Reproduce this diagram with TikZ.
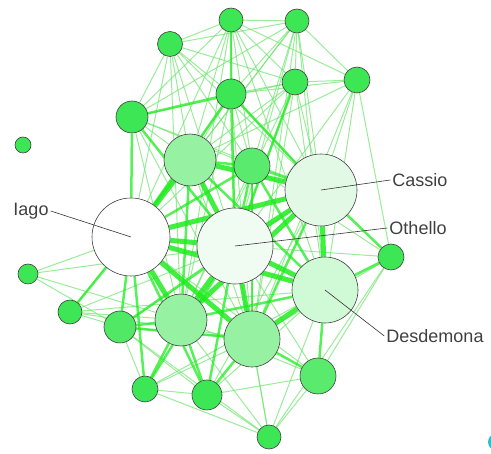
\documentclass[tikz,border=0pt]{standalone}
\usepackage{fontspec}
\setmainfont{Liberation Sans}
\usetikzlibrary{backgrounds}
\definecolor{nodegreen}{RGB}{60,230,84}
\definecolor{midgreen}{RGB}{150,242,162}
\definecolor{palegreen}{RGB}{226,250,229}
\definecolor{edgethin}{RGB}{110,228,110}
\definecolor{edgethick}{RGB}{30,236,30}
\tikzset{
  actor/.style={circle, draw=black!75, line width=0.6pt, inner sep=0pt},
  tie/.style={edgethin, line width=1pt, opacity=0.7},
  strongtie/.style={edgethick, line width=2.5pt, opacity=0.75},
  heavytie/.style={edgethick, line width=5pt, opacity=0.85},
  charlabel/.style={font=\fontsize{18}{20}\selectfont, text=black!75, inner sep=2pt},
  leader/.style={black!80, line width=0.6pt}
}

\begin{document}
\begin{tikzpicture}[x=1pt, y=-1pt]
    \useasboundingbox (0,0) rectangle (491,454);
    % small characters
    \node[actor, fill=nodegreen, minimum size=24pt] (t1) at (231,20) {};
    \node[actor, fill=nodegreen, minimum size=24pt] (t2) at (297,21) {};
    \node[actor, fill=nodegreen, minimum size=25pt] (t3) at (170,44) {};
    \node[actor, fill=nodegreen, minimum size=26pt] (u1) at (295,82) {};
    \node[actor, fill=nodegreen, minimum size=26pt] (u2) at (357,80) {};
    \node[actor, fill=nodegreen, minimum size=30pt] (u3) at (231,94) {};
    \node[actor, fill=nodegreen, minimum size=32pt] (u4) at (132,117) {};
    \node[actor, fill=nodegreen, minimum size=16pt] (iso) at (23,145) {};
    \node[actor, fill=midgreen, minimum size=52pt] (m1) at (190,160) {};
    \node[actor, fill=nodegreen!85!white, minimum size=36pt] (m2) at (252,166) {};
    \node[actor, fill=nodegreen, minimum size=26pt] (r1) at (391,257) {};
    \node[actor, fill=nodegreen, minimum size=20pt] (l1) at (28,274) {};
    \node[actor, fill=nodegreen, minimum size=24pt] (l2) at (70,312) {};
    \node[actor, fill=nodegreen!90!white, minimum size=32pt] (l3) at (120,327) {};
    \node[actor, fill=midgreen, minimum size=52pt] (b1) at (181,320) {};
    \node[actor, fill=midgreen, minimum size=56pt] (b2) at (252,339) {};
    \node[actor, fill=nodegreen!85!white, minimum size=36pt] (b3) at (318,376) {};
    \node[actor, fill=nodegreen, minimum size=26pt] (b4) at (145,389) {};
    \node[actor, fill=nodegreen, minimum size=30pt] (b5) at (207,395) {};
    \node[actor, fill=nodegreen, minimum size=24pt] (b6) at (269,437) {};
    % main characters
    \node[actor, fill=palegreen, minimum size=72pt] (Cassio) at (321,190) {};
    \node[actor, fill=white, minimum size=78pt] (Iago) at (131,237) {};
    \node[actor, fill=palegreen!50!white, minimum size=76pt] (Othello) at (235,246) {};
    \node[actor, fill=midgreen!45!white, minimum size=66pt] (Desdemona) at (325,290) {};
    \fill[cyan!70!green!80] (496,442) circle (8);

    \begin{scope}[on background layer]
        \foreach \u/\v in {t1/t2, t1/t3, t1/u1, t1/u2, t1/u4, t1/m1, t1/m2, t1/Cassio,
            t1/Othello, t1/Iago, t1/Desdemona, t2/t3, t2/u1, t2/u2, t2/u3, t2/u4,
            t2/m1, t2/m2, t2/Cassio, t2/Othello, t2/Iago, t2/Desdemona, t3/u1,
            t3/u3, t3/u4, t3/m1, t3/m2, t3/Cassio, t3/Othello, t3/Iago, u1/u2,
            u1/u3, u1/u4, u1/m1, u1/Cassio, u1/Othello, u1/Iago, u1/Desdemona,
            u2/u3, u2/Cassio, u2/Othello, u2/Desdemona, u2/r1, u2/m1, u3/m1,
            u3/m2, u3/Cassio, u3/Iago, u4/m1, u4/m2, u4/Cassio, r1/Othello,
            r1/b2, r1/b3, r1/b6, r1/m2, l1/Iago, l1/Othello, l1/l3, l1/b1, l2/l3,
            l2/b1, l2/Othello, l2/b2, l2/m1, l3/b4, l3/b5, l3/b2, b4/b5, b4/b2,
            b4/b6, b4/Desdemona, b5/b6, b5/b3, b5/Desdemona, b5/Cassio, b6/b1,
            b6/b2, b6/b3, b6/l3, b6/Desdemona, b6/Othello, b3/b1, b3/Iago,
            b3/Othello, Cassio/l3, Desdemona/l2, m2/b1, m2/b2, m1/b2, u4/b1,
            u4/b2, u3/b1, u3/b2, t3/b1, t2/b2, u1/b1, u1/b2, u2/b2, t1/b1}
            \draw[tie] (\u) -- (\v);
        \foreach \u/\v in {u3/u4, u3/Othello, t1/u3, u4/Iago, u4/Othello, m1/m2,
            m2/Othello, m2/Cassio, m2/Iago, m2/Desdemona, r1/Cassio, r1/Desdemona,
            b3/Desdemona, b3/b2, b4/Iago, b4/b1, b4/Othello, b5/b1, b5/b2,
            b5/Othello, b5/Iago, l3/Iago, l3/b1, l3/Othello, l2/Iago,
            m1/Desdemona, b1/Desdemona, b2/Cassio, u3/Iago, u3/Cassio, m1/b1,
            m2/b2, l3/b2, u1/Othello}
            \draw[strongtie] (\u) -- (\v);
        \foreach \u/\v in {Iago/Othello, Iago/Cassio, Iago/Desdemona, Othello/Cassio,
            Othello/Desdemona, Cassio/Desdemona, Iago/b1, Iago/b2, Othello/b1,
            Othello/b2, b1/Cassio, b2/Desdemona, m1/Iago, m1/Othello, m1/Cassio}
            \draw[heavytie] (\u) -- (\v);
    \end{scope}

    % labels
    \node[charlabel] (lIago) at (31,211) {Iago};
    \node[charlabel] (lCassio) at (420,180) {Cassio};
    \node[charlabel] (lOthello) at (418,228) {Othello};
    \node[charlabel] (lDesdemona) at (435,336) {Desdemona};
    \draw[leader] (lIago.east) -- (Iago.center);
    \draw[leader] (lCassio.west) -- (Cassio.center);
    \draw[leader] (lOthello.west) -- (Othello.center);
    \draw[leader] (lDesdemona.west) -- (Desdemona.center);
\end{tikzpicture}
\end{document}
